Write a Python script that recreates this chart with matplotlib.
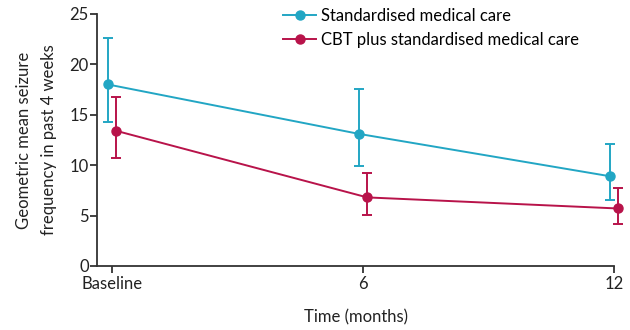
import matplotlib
matplotlib.use("Agg")
import matplotlib.pyplot as plt
from matplotlib.lines import Line2D
import numpy as np

plt.rcParams['font.family'] = ['Lato', 'DejaVu Sans']

times = [0, 6, 12]
tick_labels = ["Baseline", "6", "12"]
smc_mean = [18.0, 13.1, 8.9]
smc_low = [14.3, 9.9, 6.5]
smc_high = [22.6, 17.5, 12.1]
cbt_mean = [13.4, 6.8, 5.7]
cbt_low = [10.7, 5.1, 4.2]
cbt_high = [16.8, 9.2, 7.7]
labels = ["Standardised medical care", "CBT plus standardised medical care"]

blue = "#22a6c4"
red = "#b8134a"
axc = "#333333"
txt = "#222222"
fs = 12

fig = plt.figure(figsize=(6.3, 3.3), dpi=100)
ax = fig.add_axes([0.154, 0.194, 0.9746 - 0.154, 0.958 - 0.194])

dodge = 0.1
t = np.array(times, dtype=float)

def draw(x, m, lo, hi, c):
    m = np.array(m); lo = np.array(lo); hi = np.array(hi)
    cont = ax.errorbar(x, m, yerr=[m - lo, hi - m], color=c, marker='o', markersize=6.5,
                       lw=1.4, elinewidth=1.4, capsize=3.5, capthick=1.4)
    for art in cont.get_children():
        art.set_clip_on(False)

draw(t - dodge, smc_mean, smc_low, smc_high, blue)
draw(t + dodge, cbt_mean, cbt_low, cbt_high, red)

ax.set_xlim(-0.36, 12)
ax.set_ylim(0, 25)
ax.set_xticks(times)
ax.set_xticklabels(tick_labels)
ax.set_yticks([0, 5, 10, 15, 20, 25])
for s in ['top', 'right']:
    ax.spines[s].set_visible(False)
for s in ['left', 'bottom']:
    ax.spines[s].set_color(axc)
    ax.spines[s].set_linewidth(1.3)
ax.tick_params(axis='both', colors=axc, labelcolor=txt, labelsize=fs,
               length=5, width=1.3, pad=1)
ax.tick_params(axis='x', pad=2)

ax.set_xlabel("Time (months)", fontsize=fs, color=txt, labelpad=13)
ax.set_ylabel("Geometric mean seizure\nfrequency in past 4 weeks", fontsize=fs,
              color=txt, labelpad=9, linespacing=1.65)

handles = [Line2D([], [], color=blue, marker='o', markersize=6.5, lw=1.4),
           Line2D([], [], color=red, marker='o', markersize=6.5, lw=1.4)]
fig.legend(handles, labels, loc='upper left', bbox_to_anchor=(283 / 630, 1 - 8 / 330),
           frameon=False, fontsize=fs, handlelength=2.0, handletextpad=0.3,
           labelspacing=0.5, borderaxespad=0, borderpad=0)

fig.savefig("out.png", dpi=100)
